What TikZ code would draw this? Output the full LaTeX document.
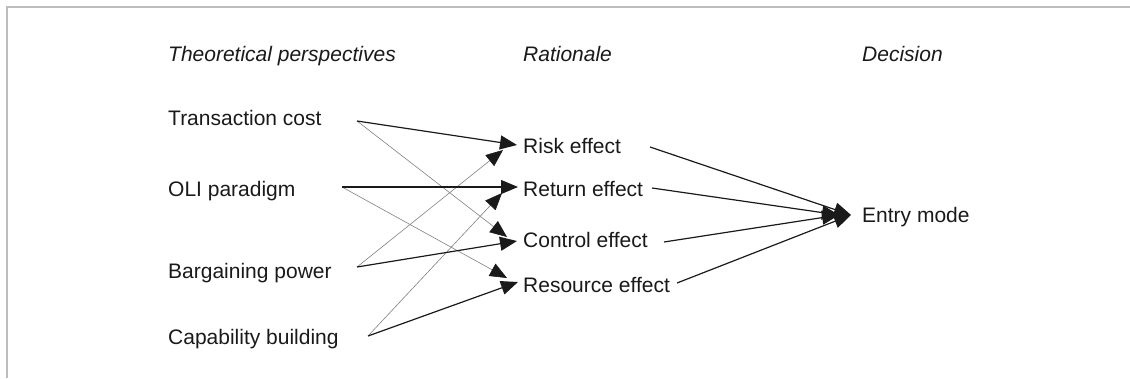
\documentclass[tikz,border=0pt]{standalone}
\usepackage{fontspec}
\setmainfont{Liberation Sans}
\usetikzlibrary{arrows.meta}
\definecolor{framegray}{HTML}{BDBDBD}
\definecolor{ink}{HTML}{1A1A1A}
\begin{document}
\begin{tikzpicture}[x=1pt,y=-1pt,
  lbl/.style={anchor=base west,inner sep=0pt,text=ink,font=\fontsize{21}{24}\selectfont},
  head/.style={lbl,font=\fontsize{21}{24}\selectfont\itshape},
  strong/.style={-{Triangle[length=17pt,width=14pt,color=ink]},draw=ink,line width=1.2pt},
  faint/.style={-{Triangle[length=17pt,width=14pt,color=ink]},draw=black!50,line width=0.6pt}]
\useasboundingbox (0,0) rectangle (1130,378);
% frame
\draw[framegray,line width=2pt] (1130,7) -- (7,7) -- (7,378);

% column headings
\node[head] (hTheory) at (168,61) {Theoretical perspectives};
\node[head] (hRationale) at (523,61) {Rationale};
\node[head] (hDecision) at (862,61) {Decision};

% theoretical perspectives
\node[lbl] (tc) at (168,125) {Transaction cost};
\node[lbl] (oli) at (168,196) {OLI paradigm};
\node[lbl] (bp) at (168,278) {Bargaining power};
\node[lbl] (cb) at (168,344) {Capability building};

% rationale
\node[lbl] (risk) at (523,153) {Risk effect};
\node[lbl] (ret) at (523,196) {Return effect};
\node[lbl] (ctl) at (523,247) {Control effect};
\node[lbl] (res) at (523,292) {Resource effect};

% decision
\node[lbl] (entry) at (862,222) {Entry mode};

% connector ends
\coordinate (tcOut) at (357,121);
\coordinate (oliOut) at (342,187);
\coordinate (bpOut) at (357,267);
\coordinate (cbOut) at (368,336);

\coordinate (riskIn) at (517,145);
\coordinate (riskInB) at (503,150);
\coordinate (retIn) at (518,187);
\coordinate (retInB) at (502,193);
\coordinate (ctlIn) at (517,241);
\coordinate (ctlInB) at (507,237);
\coordinate (resIn) at (518,282);
\coordinate (resInB) at (507,278);

\coordinate (riskOut) at (650,147);
\coordinate (retOut) at (652,188);
\coordinate (ctlOut) at (664,242);
\coordinate (resOut) at (677,283);
\coordinate (entryInA) at (839,215);
\coordinate (entryInB) at (851,215);

% secondary influences
\draw[faint] (tcOut) -- (ctlInB);
\draw[faint] (oliOut) -- (resInB);
\draw[faint] (bpOut) -- (riskInB);
\draw[faint] (cbOut) -- (retInB);

% primary influences
\draw[strong] (tcOut) -- (riskIn);
\draw[strong] (oliOut) -- (retIn);
\draw[strong] (bpOut) -- (ctlIn);
\draw[strong] (cbOut) -- (resIn);

% rationale to decision
\draw[strong] (riskOut) -- (entryInB);
\draw[strong] (retOut) -- (entryInA);
\draw[strong] (ctlOut) -- (entryInA);
\draw[strong] (resOut) -- (entryInB);
\end{tikzpicture}
\end{document}
